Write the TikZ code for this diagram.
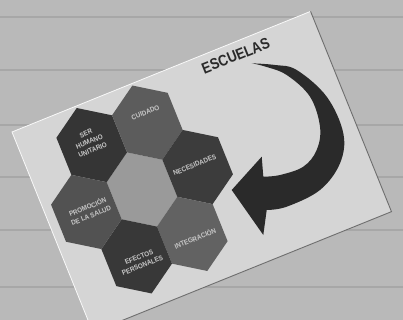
\documentclass[tikz,border=0pt]{standalone}
\usepackage{fontspec}
\setmainfont{Liberation Sans}
\definecolor{bgc}{HTML}{B9B9B9}
\definecolor{plank}{HTML}{A7A7A7}
\definecolor{cardc}{HTML}{D5D5D5}
\definecolor{cardedge}{HTML}{6E6E6E}
\definecolor{hexA}{HTML}{353535}
\definecolor{hexB}{HTML}{5C5C5C}
\definecolor{hexC}{HTML}{3C3C3C}
\definecolor{hexM}{HTML}{9A9A9A}
\definecolor{hexD}{HTML}{525252}
\definecolor{hexE}{HTML}{383838}
\definecolor{hexF}{HTML}{626262}
\definecolor{labc}{HTML}{C8C8C8}
\definecolor{inkc}{HTML}{2A2A2A}
\tikzset{
  hexlabel/.style={text=labc, align=center, inner sep=0pt, xscale=0.9,
    font=\bfseries\fontsize{7}{9}\selectfont},
  titlelabel/.style={text=inkc, inner sep=0pt, xscale=0.85,
    font=\bfseries\fontsize{15.5}{16}\selectfont},
}
\newcommand\hexcell[3]{%
  \begin{scope}[shift={(#1,#2)}]
    \fill[#3] (0,-40) -- (30,-20) -- (30,20) -- (0,40) -- (-30,20) -- (-30,-20) -- cycle;
  \end{scope}}
\begin{document}
\begin{tikzpicture}[x=1pt,y=-1pt]
\useasboundingbox (0,0) rectangle (403,320);
% background planks
\fill[bgc] (0,0) rectangle (403,320);
\foreach \yy in {17,70,125,177,230,287}
  \draw[plank, line width=1.3pt] (0,\yy) -- (403,\yy);
% card
\begin{scope}[shift={(12,132)}, rotate=22, transform shape]
  \fill[cardc] (0,0) rectangle (322,216);
  \draw[white!85!cardc, line width=0.8pt] (0,216) -- (0,0) -- (322,0);
  \draw[cardedge, line width=0.9pt] (322,0) -- (322,216) -- (0,216);
  % hexagons
  \hexcell{99}{102}{hexM}
  \hexcell{69}{42}{hexA}
  \hexcell{129}{42}{hexB}
  \hexcell{159}{102}{hexC}
  \hexcell{129}{162}{hexF}
  \hexcell{69}{162}{hexE}
  \hexcell{39}{102}{hexD}
  % labels
  \node[hexlabel] (ser) at (68,38) {SER\\HUMANO\\UNITARIO};
  \node[hexlabel] (cuidado) at (131,32) {CUIDADO};
  \node[hexlabel] (necesidades) at (157,99) {NECESIDADES};
  \node[hexlabel] (promocion) at (42,102) {PROMOCIÓN\\DE LA SALUD};
  \node[hexlabel] (efectos) at (71,168) {EFECTOS\\PERSONALES};
  \node[hexlabel] (integracion) at (130,167) {INTEGRACIÓN};
  \node[titlelabel] (escuelas) at (236,13) {ESCUELAS};
\end{scope}
% curved arrow
\fill[inkc] plot[smooth, tension=0.6] coordinates {(251.7,63.3) (275,65) (296.7,70) (326.7,96.7) (343.3,133.3) (340,163.3) (320,190) (286.7,206.7) (266.7,210)}
  -- (263.3,235) -- (231.7,190) -- (261.7,156.7)
  -- plot[smooth, tension=0.6] coordinates {(263.3,176.7) (280,175) (303.3,166.7) (316.7,150) (320,126.7) (310,96.7) (286.7,75) (265,66.5) (251.7,63.3)}
  -- cycle;
\end{tikzpicture}
\end{document}
